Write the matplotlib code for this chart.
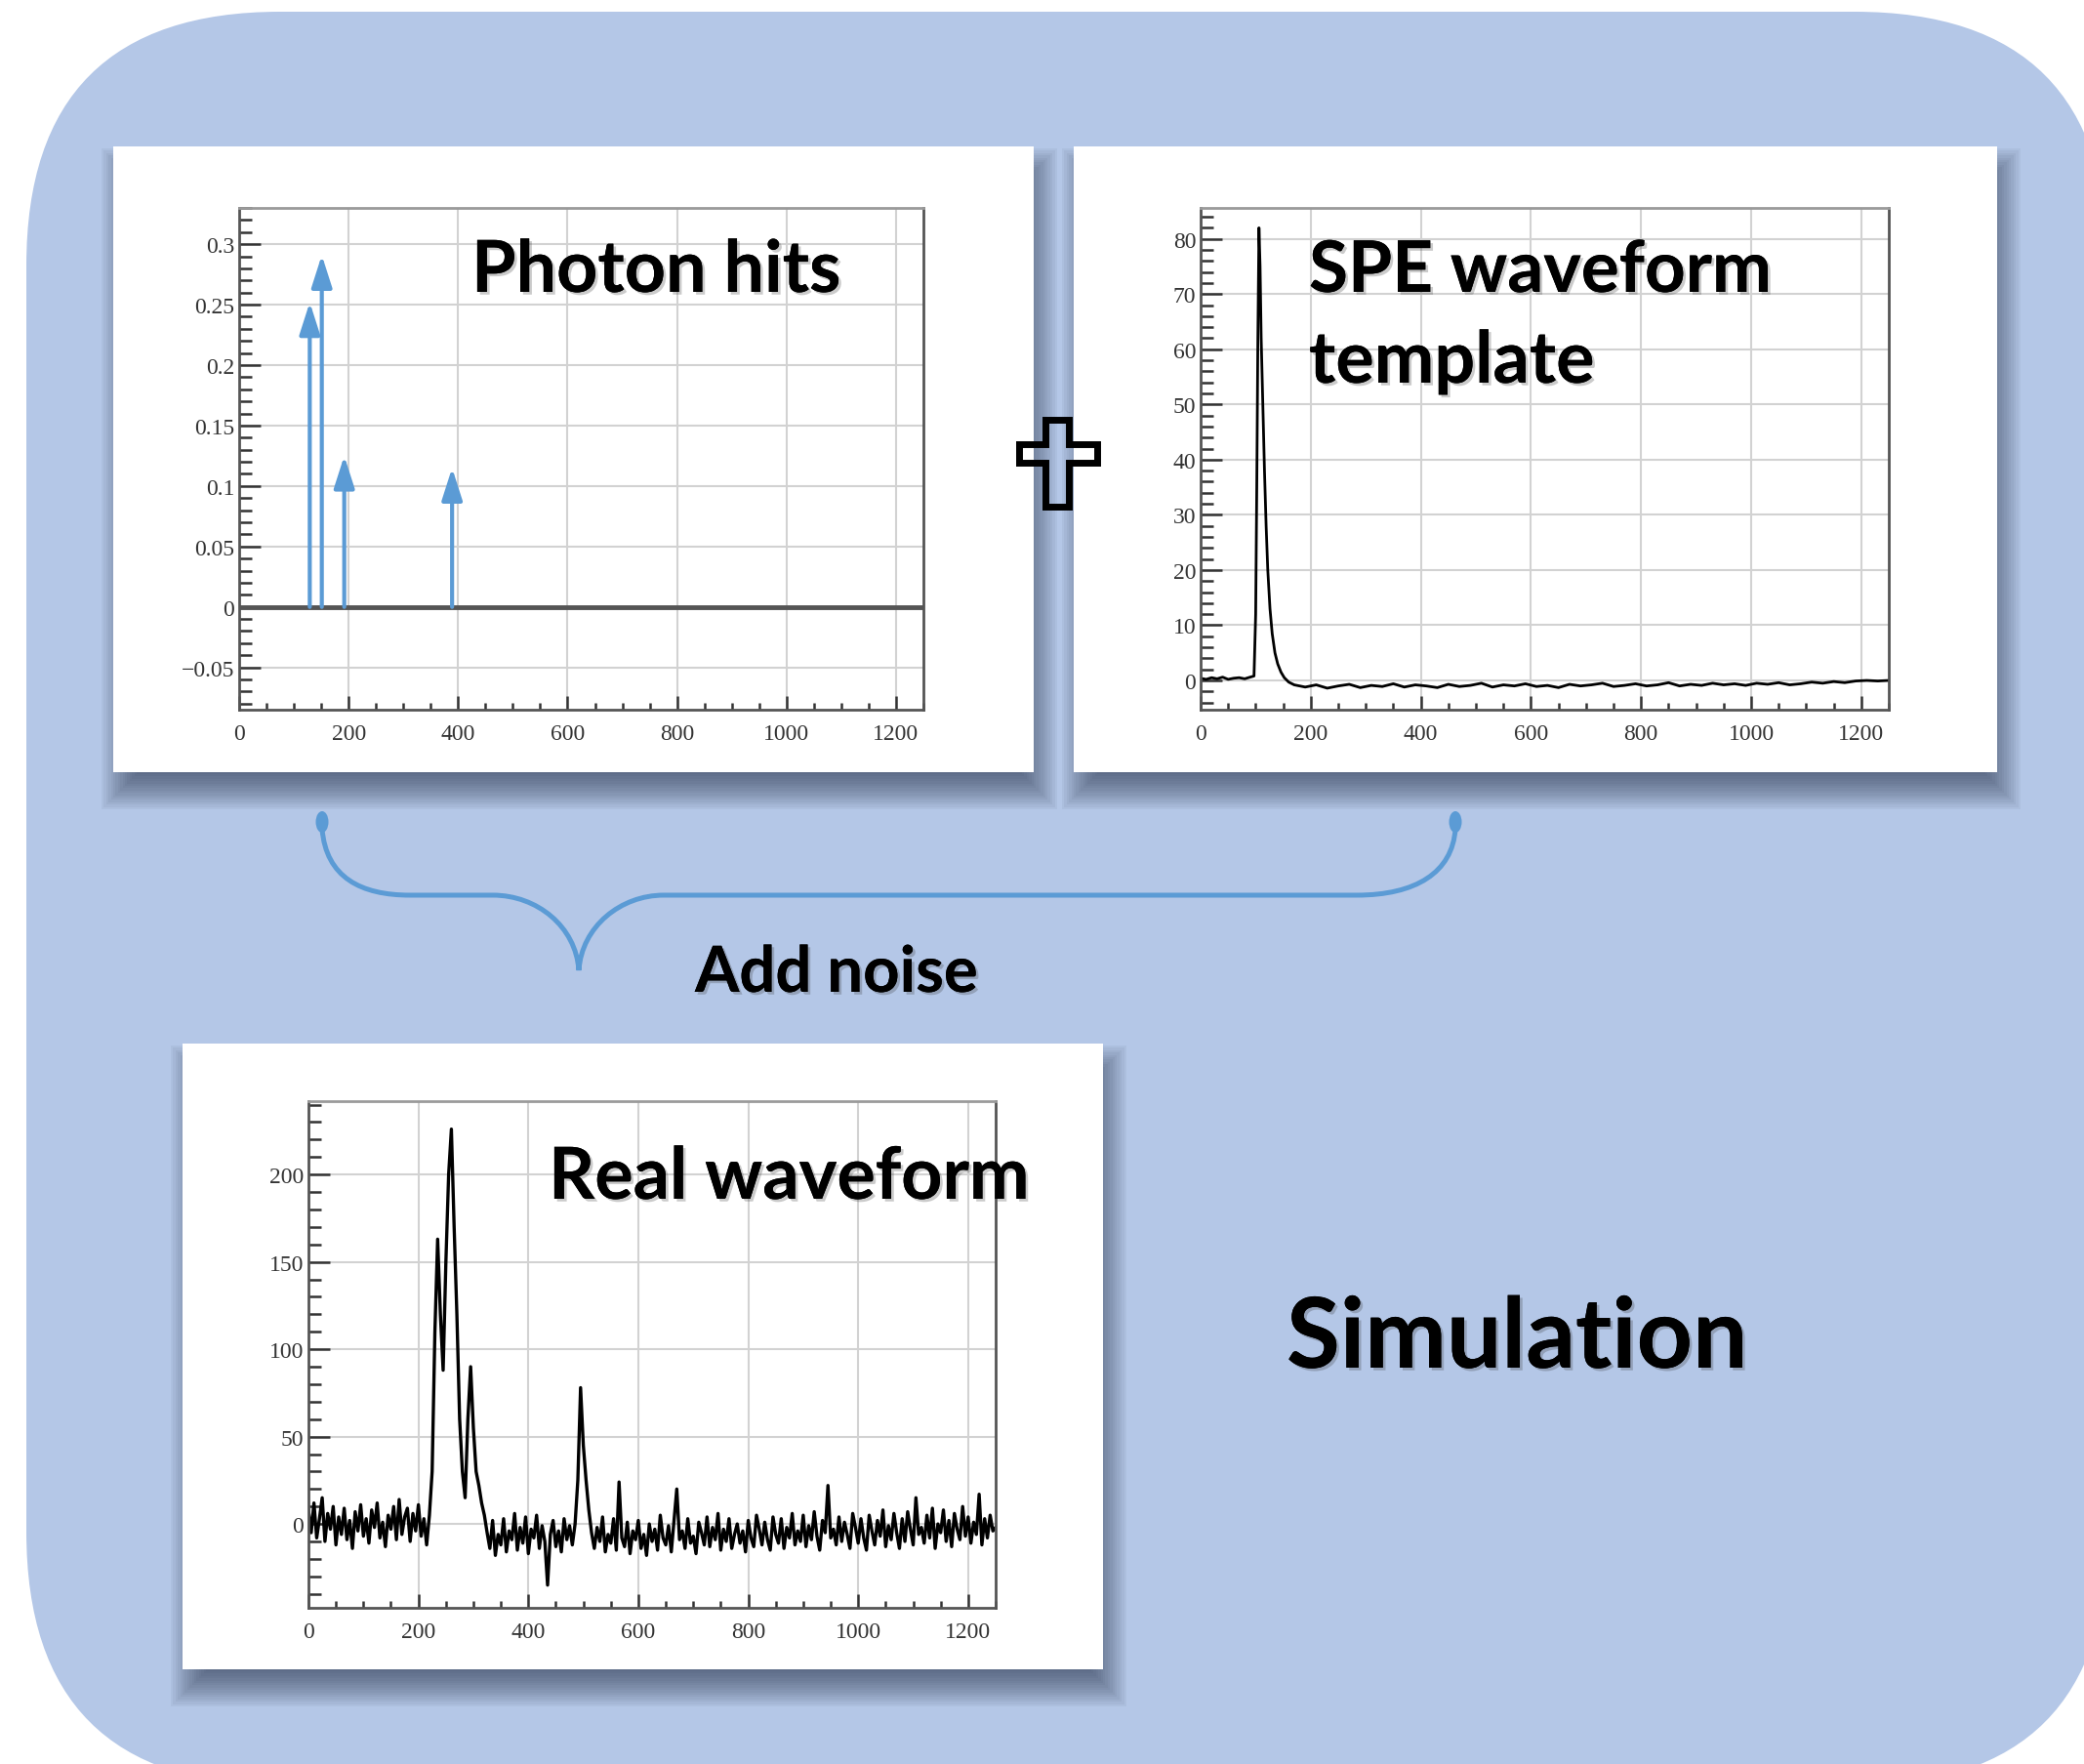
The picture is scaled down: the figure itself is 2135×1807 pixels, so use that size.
#Diagram: photon hits + SPE template -> simulated waveform
import numpy as np
import matplotlib
matplotlib.use('Agg')
import matplotlib.pyplot as plt
from matplotlib.patches import Rectangle, FancyBboxPatch, Polygon, PathPatch, Ellipse
from matplotlib.path import Path
from matplotlib.ticker import MultipleLocator
import matplotlib.patheffects as pe

#Dados
hit_times = [129, 151, 192, 389]
hit_amps = [0.252, 0.291, 0.125, 0.115]

spe_x_head = [0, 10, 20, 30, 40, 50, 60, 70, 80, 90, 97, 100, 102, 104, 106, 108, 110,
              113, 116, 119, 122, 126, 130, 135, 140, 146, 152, 160, 170, 180]
spe_y_head = [0.4, 0.2, 0.5, 0.3, 0.6, 0.2, 0.4, 0.5, 0.3, 0.6, 0.8, 12, 35, 62, 82, 75, 62,
              50, 38, 28, 20, 13, 8.5, 5, 3, 1.5, 0.5, -0.3, -0.8, -1.0]
spe_x_tail = list(range(190, 1251, 20))
spe_y_tail = [-1.2, -0.8, -1.4, -1.0, -0.7, -1.3, -0.9, -1.1, -0.6, -1.2,
              -0.8, -1.0, -1.3, -0.7, -1.1, -0.9, -0.5, -1.2, -0.8, -1.0,
              -0.6, -1.1, -0.9, -1.3, -0.7, -1.0, -0.8, -0.5, -1.1, -0.9,
              -0.6, -1.0, -0.8, -0.4, -1.0, -0.7, -0.9, -0.5, -0.8, -0.6,
              -0.9, -0.5, -0.7, -0.4, -0.8, -0.6, -0.3, -0.5, -0.2, -0.4,
              -0.1, 0.0, -0.1, 0.0]

real_t = list(range(0, 1251, 5))
real_y = [8, -5, 12, -8, 3, 15, -10, 6, -3, 10,
          -12, 4, -6, 9, -9, 2, -14, 7, -4, 11,
          -7, 3, -11, 8, -2, 12, -8, 1, -13, 5,
          -3, 10, -9, 14, -6, 4, 9, -10, 6, -4,
          11, -7, 3, -12, 5, 30, 110, 163, 120, 88,
          150, 200, 226, 170, 120, 60, 30, 15, 60, 90,
          55, 30, 22, 12, 5, -5, -14, 2, -18, -6,
          -12, 3, -16, -4, -9, 6, -15, -2, -11, 4,
          -17, -3, -8, 5, -14, -1, -10, -35, -6, 2,
          -13, -4, -16, 3, -9, -1, -12, 0, 25, 78,
          45, 25, 8, -5, -14, -2, -10, 4, -16, -6,
          -11, 3, -15, 24, -8, -13, 1, -17, -4, -9,
          2, -14, -6, -18, 0, -10, -3, -15, 5, -8,
          -12, -1, -16, 2, 20, -9, -4, -14, 3, -11,
          -7, -17, 1, -5, -12, 4, -13, -2, -9, 6,
          -15, -3, -10, 3, -14, -6, 0, -11, -4, -16,
          2, -8, -13, 5, -3, -12, 1, -9, -15, 4,
          -6, -11, 3, -14, -2, -8, 6, -12, -4, -10,
          5, -13, -1, -9, 7, -7, -15, 2, -5, 22,
          -8, -3, -12, 4, -10, 1, -6, -14, 6, -2,
          -11, 3, -8, -15, 5, -4, -12, 2, -7, 8,
          -13, -1, -9, 6, -5, -14, 3, -10, 7, -3,
          -12, 15, -6, -2, -11, 5, -8, 9, -14, 0,
          -5, 8, -10, 2, -13, 6, -3, -9, 10, -7,
          4, -11, 1, -6, 17, -12, 3, -8, 5, -4,
          -2]

W, H = 2135, 1808
BG = '#b4c7e7'
BLUE = '#5b9bd5'
TXT_FONT = ['Lato', 'DejaVu Sans']

fig = plt.figure(figsize=(W / 100, H / 100), dpi=100)
fig.patch.set_facecolor('white')

#Eixo de fundo em coordenadas de pixel
bg = fig.add_axes([0, 0, 1, 1], zorder=0)
bg.set_xlim(0, W)
bg.set_ylim(H, 0)
bg.axis('off')

bg.add_patch(FancyBboxPatch((27, 13), 2160 - 27, 1830 - 13,
                            boxstyle='round,pad=0,rounding_size=260',
                            facecolor=BG, edgecolor='none'))


def painel(x, y, w, h):
    #sombra suave
    n = 16
    for k in range(n):
        s = -18 + 36 * k / (n - 1)
        bg.add_patch(Rectangle((x + 6 - s, y + 20 - s), w + 2 * s, h + 2 * s,
                               facecolor='#27324a', edgecolor='none', alpha=0.05))
    bg.add_patch(Rectangle((x, y), w, h, facecolor='white', edgecolor='none'))


painel(116, 151, 943, 641)
painel(1100, 151, 946, 641)
painel(187, 1070, 943, 641)

#Sinal de mais (contorno)
cruz = [(1070.5, 430.5), (1094.5, 430.5), (1094.5, 455.5), (1123.5, 455.5), (1123.5, 474.5),
        (1094.5, 474.5), (1094.5, 519.5), (1070.5, 519.5), (1070.5, 474.5), (1043.5, 474.5),
        (1043.5, 455.5), (1070.5, 455.5)]
bg.add_patch(Polygon(cruz, closed=True, facecolor='none', edgecolor='black', lw=5, joinstyle='miter'))

#Chave
verts = [(330, 850), (334, 900), (370, 918), (420, 918),
         (505, 918),
         (550, 918), (590, 950), (593, 995),
         (596, 950), (636, 918), (680, 918),
         (1390, 918),
         (1450, 918), (1488, 895), (1491, 850)]
codes = [Path.MOVETO, Path.CURVE4, Path.CURVE4, Path.CURVE4,
         Path.LINETO,
         Path.CURVE4, Path.CURVE4, Path.CURVE4,
         Path.CURVE4, Path.CURVE4, Path.CURVE4,
         Path.LINETO,
         Path.CURVE4, Path.CURVE4, Path.CURVE4]
bg.add_patch(PathPatch(Path(verts, codes), facecolor='none', edgecolor=BLUE, lw=3.6, capstyle='round'))
bg.add_patch(Ellipse((330, 843), 13, 22, facecolor=BLUE, edgecolor='none'))
bg.add_patch(Ellipse((1491, 843), 13, 22, facecolor=BLUE, edgecolor='none'))


def eixo(px_left, px_top, px_right, px_bottom):
    ax = fig.add_axes([px_left / W, 1 - px_bottom / H, (px_right - px_left) / W,
                       (px_bottom - px_top) / H], zorder=2)
    ax.set_facecolor('white')
    ax.set_xlim(0, 1250)
    ax.xaxis.set_major_locator(MultipleLocator(200))
    ax.xaxis.set_minor_locator(MultipleLocator(50))
    ax.grid(True, which='major', color='#d2d2d2', lw=1.5)
    ax.set_axisbelow(True)
    for sp in ax.spines.values():
        sp.set_color('#555555')
        sp.set_linewidth(2)
    ax.spines['top'].set_color('#9a9a9a')
    ax.tick_params(axis='both', which='both', direction='in', colors='#333333',
                   top=False, right=False, labelsize=17, width=1.8)
    ax.tick_params(axis='y', which='major', length=16)
    ax.tick_params(axis='y', which='minor', length=9)
    ax.tick_params(axis='x', which='major', length=10, pad=10)
    ax.tick_params(axis='x', which='minor', length=5)
    for lb in ax.get_xticklabels() + ax.get_yticklabels():
        lb.set_fontfamily('Liberation Serif')
    return ax


#Painel 1 - Photon hits
ax1 = eixo(245, 214, 946, 728)
ax1.set_ylim(-0.085, 0.33)
ax1.set_yticks([-0.05, 0, 0.05, 0.1, 0.15, 0.2, 0.25, 0.3])
ax1.set_yticklabels(['\u22120.05', '0', '0.05', '0.1', '0.15', '0.2', '0.25', '0.3'],
                    fontfamily='Liberation Serif')
ax1.yaxis.set_minor_locator(MultipleLocator(0.01))
ax1.axhline(0, color='#555555', lw=3.5, zorder=3)
for t, a in zip(hit_times, hit_amps):
    ax1.annotate('', xy=(t, a), xytext=(t, 0),
                 arrowprops=dict(arrowstyle='-|>,head_length=1.0,head_width=0.32',
                                 mutation_scale=20, color=BLUE, lw=3, shrinkA=0, shrinkB=0),
                 zorder=4)

#Painel 2 - SPE
ax2 = eixo(1230, 214, 1935, 728)
ax2.set_ylim(-5.3, 85.6)
ax2.yaxis.set_major_locator(MultipleLocator(10))
ax2.yaxis.set_minor_locator(MultipleLocator(2))
ax2.plot(spe_x_head + spe_x_tail, spe_y_head + spe_y_tail, color='black', lw=2)
for lb in ax2.get_yticklabels():
    lb.set_fontfamily('Liberation Serif')

#Painel 3 - forma de onda real
ax3 = eixo(316, 1129, 1020, 1648)
ax3.set_ylim(-48, 242)
ax3.yaxis.set_major_locator(MultipleLocator(50))
ax3.yaxis.set_minor_locator(MultipleLocator(10))
ax3.plot(real_t, real_y, color='black', lw=2.4)
for lb in ax3.get_yticklabels():
    lb.set_fontfamily('Liberation Serif')

#Textos
sombra = [pe.withSimplePatchShadow(offset=(2, -2), shadow_rgbFace='#333333', alpha=0.25), pe.Normal()]


def texto(x, y, s, size):
    fig.text(x / W, 1 - y / H, s, fontsize=size, fontweight='bold', family=TXT_FONT,
             ha='left', va='baseline', color='black', zorder=5, path_effects=sombra)


texto(483, 300, 'Photon hits', 53)
texto(1341, 300, 'SPE waveform', 52.5)
texto(1341, 393, 'template', 53)
texto(562, 1229, 'Real waveform', 53)
texto(712, 1017, 'Add noise', 47)
texto(1318, 1402, 'Simulation', 72)

plt.savefig('out.png', dpi=100)
